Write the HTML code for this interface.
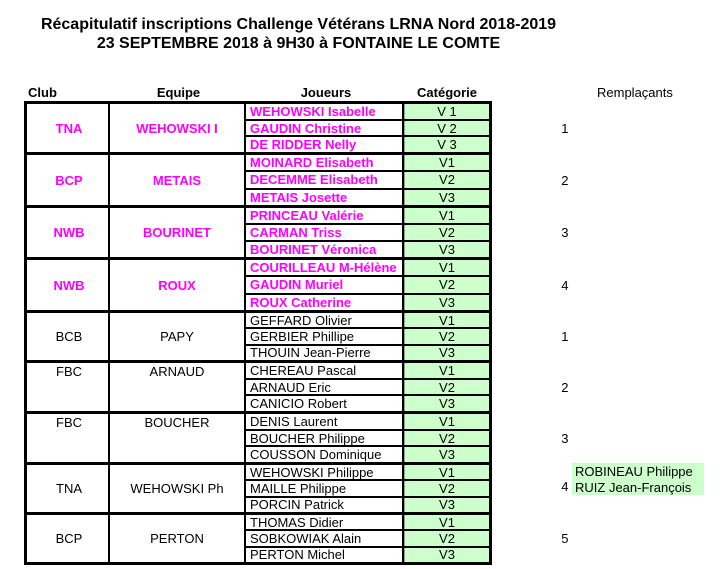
<!DOCTYPE html>
<html><head><meta charset="utf-8">
<style>
*{margin:0;padding:0;box-sizing:border-box}
html,body{width:722px;height:569px;background:#fff;overflow:hidden}
body{position:relative;font-family:"Liberation Sans",Arial,sans-serif;font-size:13px;color:#000}
.t{position:absolute;left:0;width:597px;text-align:center;font-weight:bold;font-size:16px;line-height:20px;height:20px;white-space:nowrap}
.h{position:absolute;top:84px;height:17px;line-height:17px;font-weight:bold;white-space:nowrap}
.v{position:absolute;top:101px;height:464px;background:#000}
.g{position:absolute;left:24px;width:468px;border-top:3px solid #000}
.club,.eq{position:absolute;top:0;bottom:0;display:flex;align-items:center;justify-content:center;line-height:13px;white-space:nowrap}
.club{left:3px;width:84px}
.eq{left:86px;width:134px}
.top{bottom:auto;height:16px}
.rows{position:absolute;left:222px;width:243px;top:0;bottom:0;display:flex;flex-direction:column}
.r{flex:1;display:flex;border-bottom:2px solid #000}
.r:last-child{border-bottom:none}
.j{width:158px;padding-left:4px;border-right:2px solid #000;display:flex;align-items:center;line-height:13px;white-space:nowrap}
.c{flex:1;border-left:1px solid #999;background:#ccffcc;display:flex;align-items:center;justify-content:center;line-height:13px;white-space:nowrap;font-weight:normal;color:#000}
.n{position:absolute;left:516px;width:28.5px;top:0;bottom:0;display:flex;align-items:center;justify-content:flex-end;line-height:13px}
.m{color:#ff00ff;font-weight:bold}
</style></head><body>
<div class="t" style="top:14.5px">Récapitulatif inscriptions Challenge Vétérans LRNA Nord 2018-2019</div>
<div class="t" style="top:34px">23 SEPTEMBRE 2018 à 9H30 à FONTAINE LE COMTE</div>

<div class="h" style="left:28px">Club</div>
<div class="h" style="left:130px;width:97px;text-align:center">Equipe</div>
<div class="h" style="left:276px;width:100px;text-align:center">Joueurs</div>
<div class="h" style="left:397px;width:100px;text-align:center">Catégorie</div>
<div class="h" style="left:597px;font-weight:normal">Remplaçants</div>

<div class="g" style="top:101px;height:51px">
 <div class="club m">TNA</div><div class="eq m">WEHOWSKI I</div>
 <div class="rows">
  <div class="r"><div class="j m">WEHOWSKI Isabelle</div><div class="c">V 1</div></div>
  <div class="r"><div class="j m">GAUDIN Christine</div><div class="c">V 2</div></div>
  <div class="r"><div class="j m">DE RIDDER Nelly</div><div class="c">V 3</div></div>
 </div>
 <div class="n">1</div>
</div>

<div class="g" style="top:152px;height:53px">
 <div class="club m">BCP</div><div class="eq m">METAIS</div>
 <div class="rows">
  <div class="r"><div class="j m">MOINARD Elisabeth</div><div class="c">V1</div></div>
  <div class="r"><div class="j m">DECEMME Elisabeth</div><div class="c">V2</div></div>
  <div class="r"><div class="j m">METAIS Josette</div><div class="c">V3</div></div>
 </div>
 <div class="n">2</div>
</div>

<div class="g" style="top:205px;height:52px">
 <div class="club m">NWB</div><div class="eq m">BOURINET</div>
 <div class="rows">
  <div class="r"><div class="j m">PRINCEAU Valérie</div><div class="c">V1</div></div>
  <div class="r"><div class="j m">CARMAN Triss</div><div class="c">V2</div></div>
  <div class="r"><div class="j m">BOURINET Véronica</div><div class="c">V3</div></div>
 </div>
 <div class="n">3</div>
</div>

<div class="g" style="top:257px;height:53px">
 <div class="club m">NWB</div><div class="eq m">ROUX</div>
 <div class="rows">
  <div class="r"><div class="j m">COURILLEAU M-Hélène</div><div class="c">V1</div></div>
  <div class="r"><div class="j m">GAUDIN Muriel</div><div class="c">V2</div></div>
  <div class="r"><div class="j m">ROUX Catherine</div><div class="c">V3</div></div>
 </div>
 <div class="n">4</div>
</div>

<div class="g" style="top:310px;height:50px">
 <div class="club">BCB</div><div class="eq">PAPY</div>
 <div class="rows">
  <div class="r"><div class="j">GEFFARD Olivier</div><div class="c">V1</div></div>
  <div class="r"><div class="j">GERBIER Phillipe</div><div class="c">V2</div></div>
  <div class="r"><div class="j">THOUIN Jean-Pierre</div><div class="c">V3</div></div>
 </div>
 <div class="n">1</div>
</div>

<div class="g" style="top:360px;height:51px">
 <div class="club top">FBC</div><div class="eq top">ARNAUD</div>
 <div class="rows">
  <div class="r"><div class="j">CHEREAU Pascal</div><div class="c">V1</div></div>
  <div class="r"><div class="j">ARNAUD Eric</div><div class="c">V2</div></div>
  <div class="r"><div class="j">CANICIO Robert</div><div class="c">V3</div></div>
 </div>
 <div class="n">2</div>
</div>

<div class="g" style="top:411px;height:51px">
 <div class="club top">FBC</div><div class="eq top">BOUCHER</div>
 <div class="rows">
  <div class="r"><div class="j">DENIS Laurent</div><div class="c">V1</div></div>
  <div class="r"><div class="j">BOUCHER Philippe</div><div class="c">V2</div></div>
  <div class="r"><div class="j">COUSSON Dominique</div><div class="c">V3</div></div>
 </div>
 <div class="n">3</div>
</div>

<div class="g" style="top:462px;height:50px">
 <div class="club">TNA</div><div class="eq">WEHOWSKI Ph</div>
 <div class="rows">
  <div class="r"><div class="j">WEHOWSKI Philippe</div><div class="c">V1</div></div>
  <div class="r"><div class="j">MAILLE Philippe</div><div class="c">V2</div></div>
  <div class="r"><div class="j">PORCIN Patrick</div><div class="c">V3</div></div>
 </div>
</div>

<div class="g" style="top:512px;height:50px">
 <div class="club">BCP</div><div class="eq">PERTON</div>
 <div class="rows">
  <div class="r"><div class="j">THOMAS Didier</div><div class="c">V1</div></div>
  <div class="r"><div class="j">SOBKOWIAK Alain</div><div class="c">V2</div></div>
  <div class="r"><div class="j">PERTON Michel</div><div class="c">V3</div></div>
 </div>
 <div class="n">5</div>
</div>

<!-- bottom border -->
<div style="position:absolute;left:24px;top:562px;width:468px;height:3px;background:#000"></div>
<!-- vertical lines -->
<div class="v" style="left:24px;width:3px"></div>
<div class="v" style="left:108px;width:2px"></div>
<div class="v" style="left:244px;width:2px"></div>
<div class="v" style="left:489px;width:3px"></div>

<!-- group 8 number and replacements -->
<div style="position:absolute;left:540px;width:28.5px;top:480px;height:13px;line-height:13px;text-align:right">4</div>
<div style="position:absolute;left:572px;top:463px;width:132px;height:32px;background:#ccffcc"></div>
<div style="position:absolute;left:575px;top:465px;height:13px;line-height:13px;white-space:nowrap">ROBINEAU Philippe</div>
<div style="position:absolute;left:575px;top:480.5px;height:13px;line-height:13px;white-space:nowrap">RUIZ Jean-François</div>
</body></html>
